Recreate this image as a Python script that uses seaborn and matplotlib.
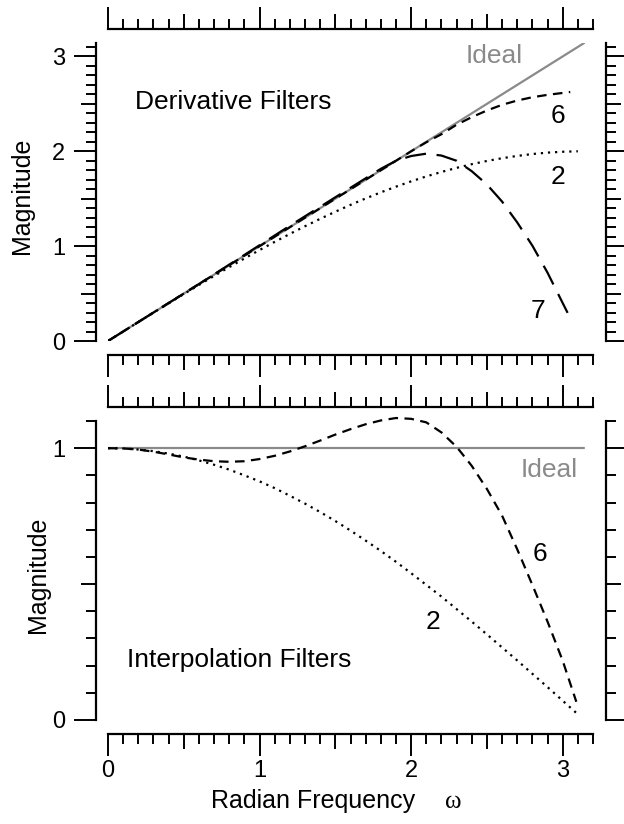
import numpy as np
import matplotlib
matplotlib.use("Agg")
import matplotlib.pyplot as plt
import seaborn as sns
from matplotlib.ticker import FixedLocator, FuncFormatter

# ---------------- data ----------------
omega = [0.0, 0.1, 0.2, 0.3, 0.4, 0.5, 0.6, 0.7, 0.8, 0.9, 1.0, 1.1, 1.2, 1.3, 1.4, 1.5,
         1.6, 1.7, 1.8, 1.9, 2.0, 2.1, 2.2, 2.3, 2.4, 2.5, 2.6, 2.7, 2.8, 2.9, 3.0, 3.1]

# Derivative filters
ideal_deriv_x = [0.0, 3.14]
ideal_deriv_y = [0.0, 3.14]
deriv_2 = [0.0, 0.100, 0.200, 0.299, 0.397, 0.495, 0.591, 0.686, 0.779, 0.870, 0.959, 1.045,
           1.129, 1.210, 1.288, 1.363, 1.435, 1.503, 1.567, 1.627, 1.683, 1.735, 1.782, 1.825,
           1.864, 1.898, 1.927, 1.951, 1.971, 1.986, 1.995, 2.000]
deriv_6_x = [0.0, 0.2, 0.4, 0.6, 0.8, 1.0, 1.2, 1.4, 1.6, 1.8, 2.0, 2.1, 2.2, 2.3, 2.4, 2.5,
             2.6, 2.7, 2.8, 2.9, 3.0, 3.05]
deriv_6 = [0.0, 0.2, 0.4, 0.6, 0.8, 1.0, 1.2, 1.4, 1.6, 1.8, 2.0, 2.095, 2.18, 2.28, 2.36, 2.43,
           2.49, 2.535, 2.57, 2.595, 2.615, 2.625]
deriv_7_x = [0.0, 0.2, 0.4, 0.6, 0.8, 1.0, 1.2, 1.4, 1.6, 1.7, 1.8, 1.9, 2.0, 2.1, 2.2, 2.3,
             2.4, 2.5, 2.6, 2.7, 2.8, 2.9, 3.0, 3.06]
deriv_7 = [0.0, 0.2, 0.4, 0.6, 0.805, 1.01, 1.215, 1.415, 1.615, 1.715, 1.815, 1.90, 1.95, 1.975,
           1.955, 1.90, 1.79, 1.65, 1.47, 1.25, 1.005, 0.72, 0.40, 0.21]

# Interpolation filters
ideal_interp_x = [0.0, 3.14]
ideal_interp_y = [1.0, 1.0]
interp_2 = [1.0, 0.999, 0.995, 0.989, 0.980, 0.969, 0.955, 0.939, 0.921, 0.900, 0.878, 0.853,
            0.825, 0.796, 0.765, 0.732, 0.697, 0.660, 0.622, 0.582, 0.540, 0.497, 0.454, 0.408,
            0.362, 0.315, 0.267, 0.219, 0.170, 0.121, 0.071, 0.021]
interp_6_x = [0.0, 0.1, 0.2, 0.3, 0.4, 0.5, 0.6, 0.7, 0.8, 0.9, 1.0, 1.1, 1.2, 1.3, 1.4, 1.5,
              1.6, 1.7, 1.8, 1.9, 2.0, 2.1, 2.2, 2.3, 2.4, 2.5, 2.6, 2.7, 2.8, 2.9, 3.0, 3.09]
interp_6 = [1.0, 0.999, 0.995, 0.987, 0.977, 0.966, 0.958, 0.952, 0.950, 0.952, 0.960, 0.972,
            0.988, 1.007, 1.028, 1.050, 1.070, 1.088, 1.102, 1.111, 1.108, 1.095, 1.058, 1.005,
            0.935, 0.850, 0.752, 0.628, 0.497, 0.362, 0.218, 0.067]

x_tick_labels = ["0", "1", "2", "3"]
top_y_tick_labels = ["0", "1", "2", "3"]
bottom_y_tick_labels = ["0", "1"]

# ---------------- styling ----------------
sns.set_theme(style="ticks")
plt.rcParams["font.family"] = ["Liberation Sans", "DejaVu Sans"]
plt.rcParams["axes.facecolor"] = "white"
plt.rcParams["figure.facecolor"] = "white"
plt.rcParams["text.color"] = "black"
plt.rcParams["axes.labelcolor"] = "black"
plt.rcParams["xtick.color"] = "black"
plt.rcParams["ytick.color"] = "black"

GRAY = "#8a8a8a"
FS_TEXT = 19
FS_LABEL = 18
FS_TICK = 17
DOT = (0, (1.0, 2.2))
SHORT_DASH = (0, (4.3, 2.9))
LONG_DASH = (0, (9.5, 4.8))

W, H = 624, 824
fig = plt.figure(figsize=(W / 100, H / 100), dpi=100)


def px_box(x0, y0, x1, y1):
    return [x0 / W, (H - y1) / H, (x1 - x0) / W, (y1 - y0) / H]


ax1 = fig.add_axes(px_box(108, 43, 593, 341))
ax2 = fig.add_axes(px_box(108, 421, 593, 720))

PT = 0.72  # points per pixel at dpi 100


def tick_len(v):
    r = round(v * 10)
    if r % 10 == 0:
        return 15.5
    if r % 5 == 0:
        return 10.5
    return 7.0


def style(ax, ymax, ystep_labels, show_xlabels):
    ax.set_xlim(0, 3.2)
    ax.set_ylim(0, ymax)
    ax.grid(False)
    for side, off in [("left", 12), ("right", 13), ("top", 14), ("bottom", 14)]:
        sp = ax.spines[side]
        sp.set_visible(True)
        sp.set_linewidth(1.6)
        sp.set_color("black")
        sp.set_position(("outward", off * PT))
    xlocs = [round(0.1 * i, 1) for i in range(33)]
    ylocs = [round(0.1 * i, 1) for i in range(int(round(ymax * 10)) + 1) if 0.1 * i <= ymax + 1e-9]
    ax.xaxis.set_major_locator(FixedLocator(xlocs))
    ax.yaxis.set_major_locator(FixedLocator(ylocs))

    def xfmt(v, p):
        r = round(v)
        return x_tick_labels[r] if abs(v - r) < 1e-6 and 0 <= r < len(x_tick_labels) else ""

    def yfmt(v, p):
        r = round(v)
        return ystep_labels[r] if abs(v - r) < 1e-6 and 0 <= r < len(ystep_labels) else ""

    ax.xaxis.set_major_formatter(FuncFormatter(xfmt))
    ax.yaxis.set_major_formatter(FuncFormatter(yfmt))
    ax.tick_params(axis="both", which="major", direction="out", length=15.5, width=1.4,
                   color="black", labelsize=FS_TICK, labelcolor="black",
                   top=True, bottom=True, left=True, right=True,
                   labeltop=False, labelbottom=show_xlabels, labelleft=True, labelright=False)
    ax.tick_params(axis="y", pad=6.5)
    ax.tick_params(axis="x", pad=3)
    ax.minorticks_off()
    for t, v in zip(ax.xaxis.get_major_ticks(len(xlocs)), xlocs):
        t.tick1line.set_markersize(tick_len(v))
        t.tick2line.set_markersize(tick_len(v))
    for t, v in zip(ax.yaxis.get_major_ticks(len(ylocs)), ylocs):
        t.tick1line.set_markersize(tick_len(v))
        t.tick2line.set_markersize(tick_len(v))
    ax.set_xlabel("")
    ax.set_ylabel("")


# ---------------- top panel: derivative filters ----------------
sns.lineplot(x=ideal_deriv_x, y=ideal_deriv_y, ax=ax1, color=GRAY, lw=1.6, sort=False, estimator=None)
sns.lineplot(x=omega, y=deriv_2, ax=ax1, color="black", lw=1.6, linestyle=DOT, sort=False, estimator=None)
sns.lineplot(x=deriv_6_x, y=deriv_6, ax=ax1, color="black", lw=1.6, linestyle=SHORT_DASH, sort=False, estimator=None)
sns.lineplot(x=deriv_7_x, y=deriv_7, ax=ax1, color="black", lw=1.6, linestyle=LONG_DASH, sort=False, estimator=None)
style(ax1, np.pi, top_y_tick_labels, False)

ax1.text(0.178, 2.52, "Derivative Filters", fontsize=FS_TEXT, ha="left", va="center")
ax1.text(2.545, 3.0, "Ideal", fontsize=FS_TEXT, color=GRAY, ha="center", va="center")
ax1.text(2.968, 2.375, "6", fontsize=FS_TEXT, ha="center", va="center")
ax1.text(2.968, 1.725, "2", fontsize=FS_TEXT, ha="center", va="center")
ax1.text(2.837, 0.318, "7", fontsize=FS_TEXT, ha="center", va="center")

# ---------------- bottom panel: interpolation filters ----------------
sns.lineplot(x=ideal_interp_x, y=ideal_interp_y, ax=ax2, color=GRAY, lw=1.6, sort=False, estimator=None)
sns.lineplot(x=omega, y=interp_2, ax=ax2, color="black", lw=1.6, linestyle=DOT, sort=False, estimator=None)
sns.lineplot(x=interp_6_x, y=interp_6, ax=ax2, color="black", lw=1.6, linestyle=SHORT_DASH, sort=False,
             estimator=None, clip_on=False)
style(ax2, 1.1, bottom_y_tick_labels, True)

ax2.text(2.912, 0.921, "Ideal", fontsize=FS_TEXT, color=GRAY, ha="center", va="center")
ax2.text(2.853, 0.61, "6", fontsize=FS_TEXT, ha="center", va="center")
ax2.text(2.142, 0.362, "2", fontsize=FS_TEXT, ha="center", va="center")
ax2.text(0.123, 0.221, "Interpolation Filters", fontsize=FS_TEXT, ha="left", va="center")

# axis titles
fig.text(22 / W, (H - 196) / H, "Magnitude", rotation=90, fontsize=FS_LABEL, ha="center", va="center")
fig.text(37.5 / W, (H - 575) / H, "Magnitude", rotation=90, fontsize=FS_LABEL, ha="center", va="center")
fig.text(415 / W, (H - 808) / H, "Radian Frequency", fontsize=FS_LABEL, ha="right", va="baseline")
fig.text(453 / W, (H - 808) / H, "ω", fontsize=FS_LABEL, ha="center", va="baseline",
         family=["Liberation Serif", "DejaVu Serif"])

fig.savefig("out.png", dpi=100, facecolor="white")
